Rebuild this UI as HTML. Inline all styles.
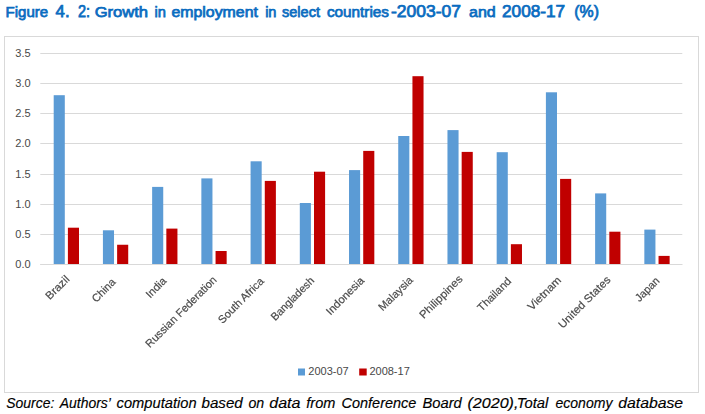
<!DOCTYPE html>
<html><head><meta charset="utf-8"><title>Figure 4.2</title>
<style>
html,body{margin:0;padding:0;background:#fff;}
body{width:705px;height:414px;overflow:hidden;font-family:"Liberation Sans",sans-serif;}
body{position:relative;}
svg{display:block;position:absolute;left:0;top:0;}
#rot{will-change:transform;}
text{font-family:"Liberation Sans",sans-serif;}
</style></head><body>
<svg width="705" height="414" viewBox="0 0 705 414">
<rect x="0" y="0" width="705" height="414" fill="#ffffff"/>
<g fill="#0a6cc0" stroke="#0a6cc0" stroke-width="0.75">
<text x="5.56" y="16.7" font-size="15.4" textLength="42.59" lengthAdjust="spacingAndGlyphs">Figure</text>
<text x="55.63" y="16.7" font-size="16.0" textLength="13.96" lengthAdjust="spacingAndGlyphs">4.</text>
<text x="77.89" y="16.7" font-size="16.0" textLength="12.07" lengthAdjust="spacingAndGlyphs">2:</text>
<text x="94.67" y="16.7" font-size="15.4" textLength="53.44" lengthAdjust="spacingAndGlyphs">Growth</text>
<text x="154.41" y="16.7" font-size="15.4" textLength="11.44" lengthAdjust="spacingAndGlyphs">in</text>
<text x="171.41" y="16.7" font-size="15.4" textLength="86.52" lengthAdjust="spacingAndGlyphs">employment</text>
<text x="265.15" y="16.7" font-size="15.4" textLength="11.33" lengthAdjust="spacingAndGlyphs">in</text>
<text x="282.00" y="16.7" font-size="15.4" textLength="37.93" lengthAdjust="spacingAndGlyphs">select</text>
<text x="326.89" y="16.7" font-size="15.4" textLength="62.11" lengthAdjust="spacingAndGlyphs">countries</text>
<text x="391.00" y="16.7" font-size="16.0" textLength="69.85" lengthAdjust="spacingAndGlyphs">-2003-07</text>
<text x="469.00" y="16.7" font-size="15.4" textLength="26.74" lengthAdjust="spacingAndGlyphs">and</text>
<text x="502.00" y="16.7" font-size="16.0" textLength="63.15" lengthAdjust="spacingAndGlyphs">2008-17</text>
<text x="574.26" y="16.7" font-size="16.0" textLength="24.70" lengthAdjust="spacingAndGlyphs">(%)</text>
</g>
<rect x="4.5" y="36.5" width="694" height="356" fill="#ffffff" stroke="#d9d9d9" stroke-width="1"/>
<line x1="40.3" x2="682.3" y1="264.50" y2="264.50" stroke="#d9d9d9" stroke-width="1"/>
<text x="15.3" y="268.20" font-size="11" fill="#484848">0.0</text>
<line x1="40.3" x2="682.3" y1="234.50" y2="234.50" stroke="#d9d9d9" stroke-width="1"/>
<text x="15.3" y="238.20" font-size="11" fill="#484848">0.5</text>
<line x1="40.3" x2="682.3" y1="204.50" y2="204.50" stroke="#d9d9d9" stroke-width="1"/>
<text x="15.3" y="208.20" font-size="11" fill="#484848">1.0</text>
<line x1="40.3" x2="682.3" y1="174.50" y2="174.50" stroke="#d9d9d9" stroke-width="1"/>
<text x="15.3" y="178.20" font-size="11" fill="#484848">1.5</text>
<line x1="40.3" x2="682.3" y1="143.50" y2="143.50" stroke="#d9d9d9" stroke-width="1"/>
<text x="15.3" y="147.20" font-size="11" fill="#484848">2.0</text>
<line x1="40.3" x2="682.3" y1="113.50" y2="113.50" stroke="#d9d9d9" stroke-width="1"/>
<text x="15.3" y="117.20" font-size="11" fill="#484848">2.5</text>
<line x1="40.3" x2="682.3" y1="83.50" y2="83.50" stroke="#d9d9d9" stroke-width="1"/>
<text x="15.3" y="87.20" font-size="11" fill="#484848">3.0</text>
<line x1="40.3" x2="682.3" y1="53.50" y2="53.50" stroke="#d9d9d9" stroke-width="1"/>
<text x="15.3" y="57.20" font-size="11" fill="#484848">3.5</text>
<rect x="53.70" y="95.20" width="11.10" height="168.80" fill="#5b9bd5"/><rect x="67.90" y="227.70" width="11.10" height="36.30" fill="#c00000"/>
<rect x="102.92" y="230.30" width="11.10" height="33.70" fill="#5b9bd5"/><rect x="117.12" y="244.75" width="11.10" height="19.25" fill="#c00000"/>
<rect x="152.14" y="186.90" width="11.10" height="77.10" fill="#5b9bd5"/><rect x="166.34" y="228.60" width="11.10" height="35.40" fill="#c00000"/>
<rect x="201.36" y="178.40" width="11.10" height="85.60" fill="#5b9bd5"/><rect x="215.56" y="251.00" width="11.10" height="13.00" fill="#c00000"/>
<rect x="250.58" y="161.30" width="11.10" height="102.70" fill="#5b9bd5"/><rect x="264.78" y="180.90" width="11.10" height="83.10" fill="#c00000"/>
<rect x="299.80" y="203.00" width="11.10" height="61.00" fill="#5b9bd5"/><rect x="314.00" y="171.70" width="11.10" height="92.30" fill="#c00000"/>
<rect x="349.02" y="170.10" width="11.10" height="93.90" fill="#5b9bd5"/><rect x="363.22" y="150.90" width="11.10" height="113.10" fill="#c00000"/>
<rect x="398.24" y="136.00" width="11.10" height="128.00" fill="#5b9bd5"/><rect x="412.44" y="76.20" width="11.10" height="187.80" fill="#c00000"/>
<rect x="447.46" y="130.10" width="11.10" height="133.90" fill="#5b9bd5"/><rect x="461.66" y="151.90" width="11.10" height="112.10" fill="#c00000"/>
<rect x="496.68" y="152.20" width="11.10" height="111.80" fill="#5b9bd5"/><rect x="510.88" y="244.20" width="11.10" height="19.80" fill="#c00000"/>
<rect x="545.90" y="92.30" width="11.10" height="171.70" fill="#5b9bd5"/><rect x="560.10" y="178.90" width="11.10" height="85.10" fill="#c00000"/>
<rect x="595.12" y="193.40" width="11.10" height="70.60" fill="#5b9bd5"/><rect x="609.32" y="231.70" width="11.10" height="32.30" fill="#c00000"/>
<rect x="644.34" y="229.60" width="11.10" height="34.40" fill="#5b9bd5"/><rect x="658.54" y="255.90" width="11.10" height="8.10" fill="#c00000"/>
<line x1="40.3" x2="682.3" y1="264.5" y2="264.5" stroke="#d9d9d9" stroke-width="1"/>
<rect x="298" y="368.5" width="7" height="7" fill="#5b9bd5"/><text x="308.3" y="375.2" font-size="11" fill="#484848">2003-07</text>
<rect x="359.2" y="368.5" width="7.5" height="7" fill="#c00000"/><text x="369.4" y="375.2" font-size="11" fill="#484848">2008-17</text>
<g font-style="italic" fill="#000000" stroke="#000000" stroke-width="0.15">
<text x="6.26" y="407.8" font-size="14.0" textLength="48.11" lengthAdjust="spacingAndGlyphs">Source:</text>
<text x="59.70" y="407.8" font-size="14.0" textLength="51.23" lengthAdjust="spacingAndGlyphs">Authors’</text>
<text x="116.63" y="407.8" font-size="14.0" textLength="79.96" lengthAdjust="spacingAndGlyphs">computation</text>
<text x="201.52" y="407.8" font-size="14.0" textLength="41.30" lengthAdjust="spacingAndGlyphs">based</text>
<text x="248.41" y="407.8" font-size="14.0" textLength="15.81" lengthAdjust="spacingAndGlyphs">on</text>
<text x="269.26" y="407.8" font-size="14.0" textLength="31.22" lengthAdjust="spacingAndGlyphs">data</text>
<text x="306.26" y="407.8" font-size="14.0" textLength="29.11" lengthAdjust="spacingAndGlyphs">from</text>
<text x="341.52" y="407.8" font-size="14.0" textLength="74.85" lengthAdjust="spacingAndGlyphs">Conference</text>
<text x="422.48" y="407.8" font-size="14.0" textLength="39.30" lengthAdjust="spacingAndGlyphs">Board</text>
<text x="467.52" y="407.8" font-size="14.4" textLength="50.88" lengthAdjust="spacingAndGlyphs">(2020),</text>
<text x="516.82" y="407.8" font-size="14.0" textLength="31.48" lengthAdjust="spacingAndGlyphs">Total</text>
<text x="555.48" y="407.8" font-size="14.0" textLength="56.97" lengthAdjust="spacingAndGlyphs">economy</text>
<text x="618.26" y="407.8" font-size="14.0" textLength="64.85" lengthAdjust="spacingAndGlyphs">database</text>
</g>
</svg>
<svg id="rot" width="705" height="414" viewBox="0 0 705 414">
<text transform="translate(70.22 279.94) rotate(-45)" text-anchor="end" font-size="11" fill="#4a4a4a" stroke="#4a4a4a" stroke-width="0.2" textLength="28.80" lengthAdjust="spacingAndGlyphs">Brazil</text>
<text transform="translate(116.36 282.80) rotate(-45)" text-anchor="end" font-size="11" fill="#4a4a4a" stroke="#4a4a4a" stroke-width="0.2" textLength="28.51" lengthAdjust="spacingAndGlyphs">China</text>
<text transform="translate(167.14 281.66) rotate(-45)" text-anchor="end" font-size="11" fill="#4a4a4a" stroke="#4a4a4a" stroke-width="0.2" textLength="24.05" lengthAdjust="spacingAndGlyphs">India</text>
<text transform="translate(217.44 280.58) rotate(-45)" text-anchor="end" font-size="11" fill="#4a4a4a" stroke="#4a4a4a" stroke-width="0.2" textLength="95.58" lengthAdjust="spacingAndGlyphs">Russian Federation</text>
<text transform="translate(264.64 281.94) rotate(-45)" text-anchor="end" font-size="11" fill="#4a4a4a" stroke="#4a4a4a" stroke-width="0.2" textLength="59.71" lengthAdjust="spacingAndGlyphs">South Africa</text>
<text transform="translate(314.86 281.44) rotate(-45)" text-anchor="end" font-size="11" fill="#4a4a4a" stroke="#4a4a4a" stroke-width="0.2" textLength="56.18" lengthAdjust="spacingAndGlyphs">Bangladesh</text>
<text transform="translate(364.94 281.22) rotate(-45)" text-anchor="end" font-size="11" fill="#4a4a4a" stroke="#4a4a4a" stroke-width="0.2" textLength="48.71" lengthAdjust="spacingAndGlyphs">Indonesia</text>
<text transform="translate(413.58 280.86) rotate(-45)" text-anchor="end" font-size="11" fill="#4a4a4a" stroke="#4a4a4a" stroke-width="0.2" textLength="43.45" lengthAdjust="spacingAndGlyphs">Malaysia</text>
<text transform="translate(463.22 279.72) rotate(-45)" text-anchor="end" font-size="11" fill="#4a4a4a" stroke="#4a4a4a" stroke-width="0.2" textLength="55.98" lengthAdjust="spacingAndGlyphs">Philippines</text>
<text transform="translate(511.86 281.90) rotate(-45)" text-anchor="end" font-size="11" fill="#4a4a4a" stroke="#4a4a4a" stroke-width="0.2" textLength="42.43" lengthAdjust="spacingAndGlyphs">Thailand</text>
<text transform="translate(561.94 280.90) rotate(-45)" text-anchor="end" font-size="11" fill="#4a4a4a" stroke="#4a4a4a" stroke-width="0.2" textLength="42.43" lengthAdjust="spacingAndGlyphs">Vietnam</text>
<text transform="translate(611.16 280.58) rotate(-45)" text-anchor="end" font-size="11" fill="#4a4a4a" stroke="#4a4a4a" stroke-width="0.2" textLength="68.42" lengthAdjust="spacingAndGlyphs">United States</text>
<text transform="translate(660.22 281.58) rotate(-45)" text-anchor="end" font-size="11" fill="#4a4a4a" stroke="#4a4a4a" stroke-width="0.2" textLength="29.42" lengthAdjust="spacingAndGlyphs">Japan</text>
</svg>
</body></html>
